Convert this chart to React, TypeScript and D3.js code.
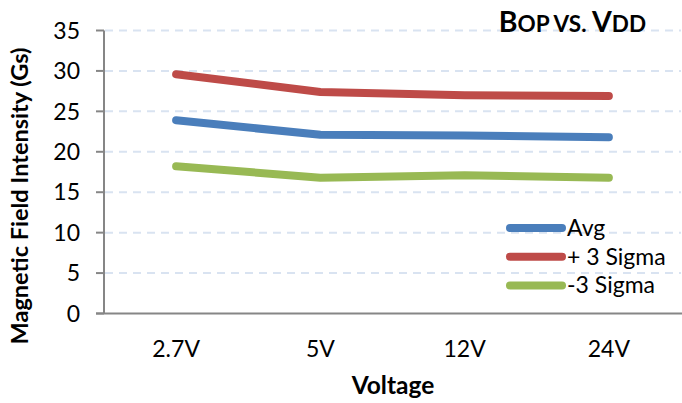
import React from "react";
import * as d3 from "d3";

const categories = ["2.7V", "5V", "12V", "24V"];
const seriesNames = ["Avg", "+ 3 Sigma", "-3 Sigma"];
const avgValues = [23.9, 22.1, 22.0, 21.8];
const plus3Values = [29.6, 27.4, 27.0, 26.9];
const minus3Values = [18.2, 16.8, 17.1, 16.8];
const yTicks = [0, 5, 10, 15, 20, 25, 30, 35];
const colors = ["#4A7EBB", "#BE4B48", "#98B954"];

const W = 682;
const H = 403;
const FONT = "Lato, 'Open Sans', sans-serif";

export default function App() {
  const x = d3.scalePoint<string>().domain(categories).range([104, 681]).padding(0.5);
  const y = d3.scaleLinear().domain([0, 35]).range([313.5, 30.5]);
  const series = [avgValues, plus3Values, minus3Values];
  const line = d3
    .line<number>()
    .x((_, i) => x(categories[i]) as number)
    .y((d) => y(d));

  return (
    <svg
      width={W}
      height={H}
      style={{ position: "absolute", left: 0, top: 0, background: "#fff" }}
      fontFamily={FONT}
    >
      <rect width={W} height={H} fill="#fff" />
      {/* gridlines */}
      {yTicks.filter((t) => t > 0).map((t) => (
        <line
          key={"g" + t}
          x1={105}
          x2={681}
          y1={y(t)}
          y2={y(t)}
          stroke="#D9E3F1"
          strokeWidth={2}
          strokeDasharray="8,6"
        />
      ))}
      {/* title */}
      <text x={646} y={32} textAnchor="end" fontWeight="bold" fill="#000">
        <tspan fontSize={28.5}>B</tspan>
        <tspan fontSize={22.5}>OP VS. </tspan>
        <tspan fontSize={28.5}>V</tspan>
        <tspan fontSize={22.5}>DD</tspan>
      </text>
      {/* axes */}
      <line x1={104} x2={104} y1={y(35)} y2={y(0)} stroke="#868686" strokeWidth={2} />
      <line x1={96} x2={682} y1={y(0)} y2={y(0)} stroke="#868686" strokeWidth={2} />
      {yTicks.map((t) => (
        <g key={"t" + t}>
          <line x1={96} x2={104} y1={y(t)} y2={y(t)} stroke="#868686" strokeWidth={2} />
          <text
            x={80}
            y={y(t)}
            dy="0.36em"
            textAnchor="end"
            fontSize={23}
            fill="#000"
          >
            {t}
          </text>
        </g>
      ))}
      {categories.map((c) => (
        <text key={c} x={x(c)} y={357} textAnchor="middle" fontSize={23} fill="#000">
          {c}
        </text>
      ))}
      {/* axis titles */}
      <text x={393} y={394} textAnchor="middle" fontSize={24.5} fontWeight="bold" fill="#000">
        Voltage
      </text>
      <text
        transform={`translate(28,196) rotate(-90)`}
        textAnchor="middle"
        fontSize={23.5}
        fontWeight="bold"
        fill="#000"
      >
        Magnetic Field Intensity (Gs)
      </text>
      {/* lines */}
      {series.map((s, i) => (
        <path
          key={"s" + i}
          d={line(s) as string}
          fill="none"
          stroke={colors[i]}
          strokeWidth={8}
          strokeLinecap="round"
          strokeLinejoin="round"
        />
      ))}
      {/* legend */}
      {seriesNames.map((n, i) => {
        const ly = 228 + i * 28.7;
        return (
          <g key={n}>
            <line
              x1={510}
              x2={562}
              y1={ly}
              y2={ly}
              stroke={colors[i]}
              strokeWidth={8}
              strokeLinecap="round"
            />
            <text x={567} y={ly + 8} fontSize={23} fill="#000">
              {n}
            </text>
          </g>
        );
      })}
    </svg>
  );
}
